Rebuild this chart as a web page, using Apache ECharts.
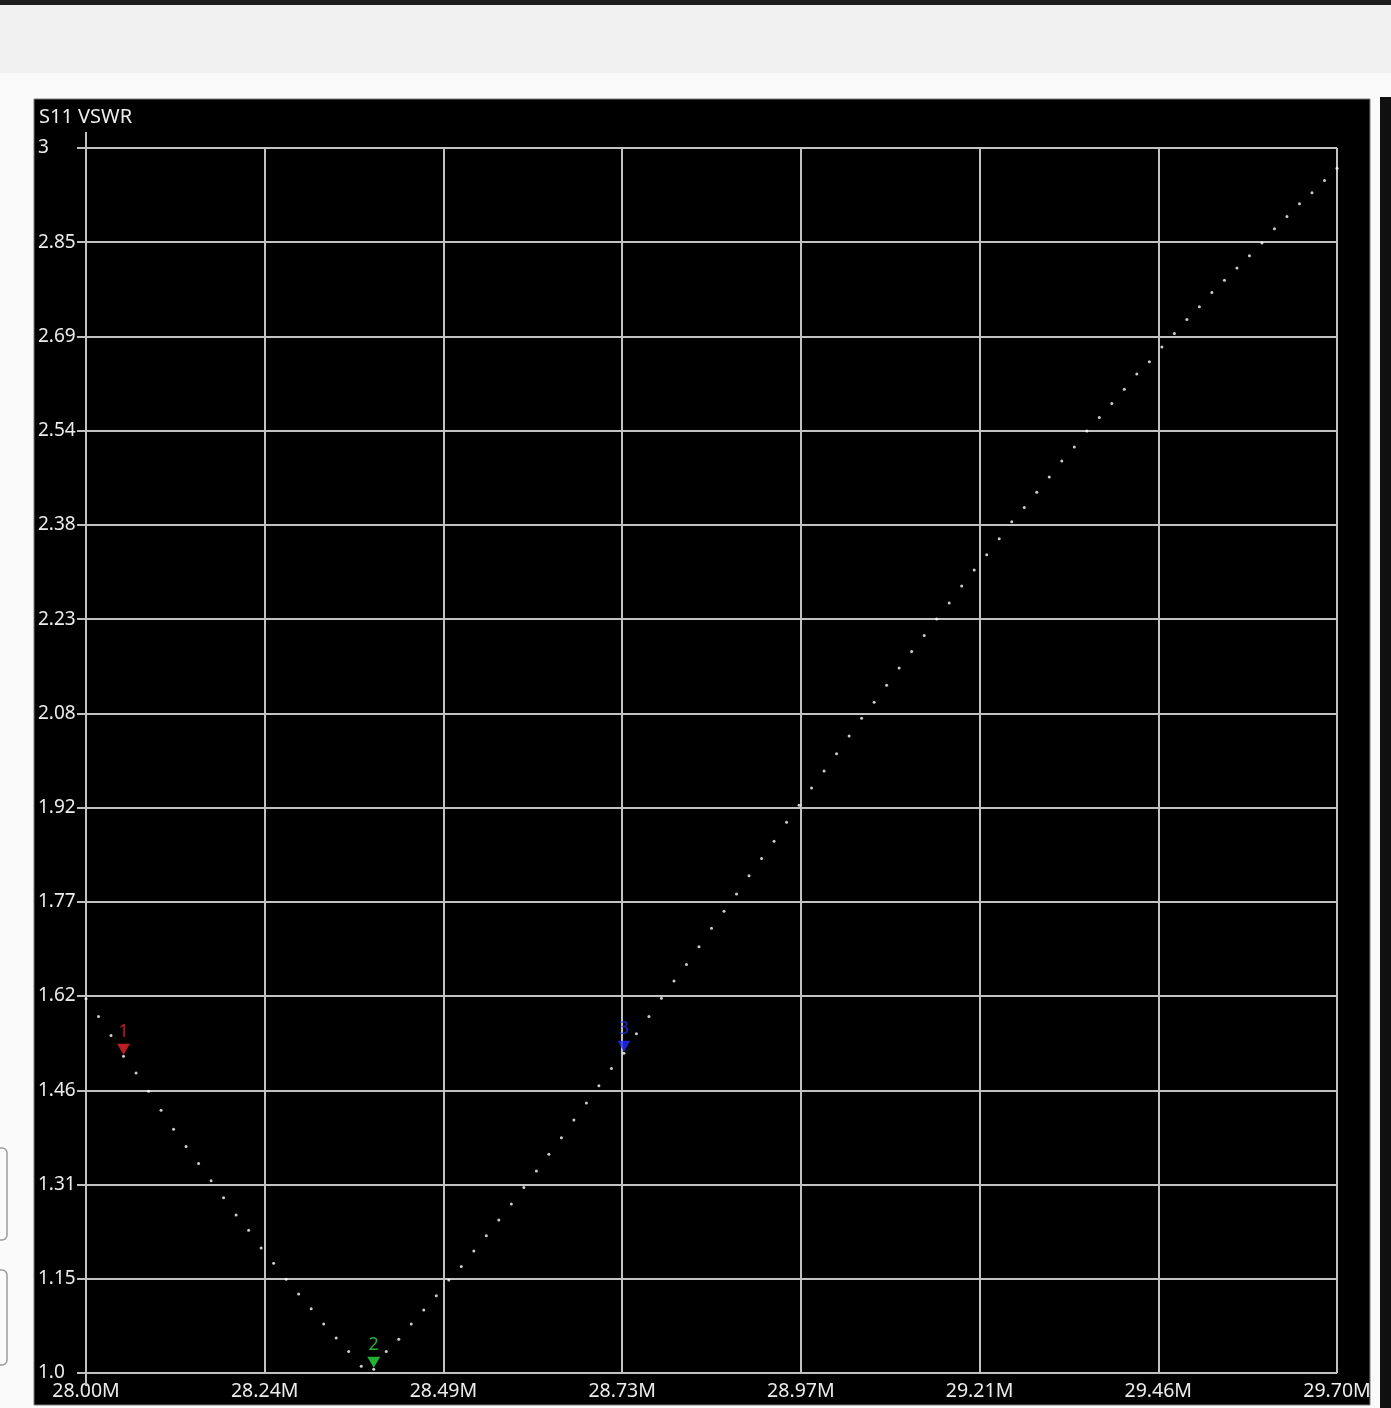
<!DOCTYPE html>
<html>
<head>
<meta charset="utf-8">
<title>S11 VSWR</title>
<script src="https://cdn.jsdelivr.net/npm/echarts@6/dist/echarts.min.js"></script>
<style>
  html, body { margin: 0; padding: 0; background: #fafafa; }
  #chart { width: 1391px; height: 1408px; }
</style>
</head>
<body>
<div id="chart"></div>
<script>
// Sweep frequencies (MHz), 101 points
const freqs = [
  28.000, 28.017, 28.034, 28.051, 28.068, 28.085, 28.102, 28.119, 28.136, 28.153,
  28.170, 28.187, 28.204, 28.221, 28.238, 28.255, 28.272, 28.289, 28.306, 28.323,
  28.340, 28.357, 28.374, 28.391, 28.408, 28.425, 28.442, 28.459, 28.476, 28.493,
  28.510, 28.527, 28.544, 28.561, 28.578, 28.595, 28.612, 28.629, 28.646, 28.663,
  28.680, 28.697, 28.714, 28.731, 28.748, 28.765, 28.782, 28.799, 28.816, 28.833,
  28.850, 28.867, 28.884, 28.901, 28.918, 28.935, 28.952, 28.969, 28.986, 29.003,
  29.020, 29.037, 29.054, 29.071, 29.088, 29.105, 29.122, 29.139, 29.156, 29.173,
  29.190, 29.207, 29.224, 29.241, 29.258, 29.275, 29.292, 29.309, 29.326, 29.343,
  29.360, 29.377, 29.394, 29.411, 29.428, 29.445, 29.462, 29.479, 29.496, 29.513,
  29.530, 29.547, 29.564, 29.581, 29.598, 29.615, 29.632, 29.649, 29.666, 29.683,
  29.700
];

// Measured S11 VSWR at each sweep point
const vswr = [
  1.611, 1.582, 1.551, 1.517, 1.490, 1.460, 1.429, 1.398, 1.370, 1.342,
  1.314, 1.286, 1.258, 1.233, 1.204, 1.179, 1.153, 1.129, 1.105, 1.080,
  1.057, 1.035, 1.011, 1.006, 1.035, 1.055, 1.080, 1.103, 1.126, 1.152,
  1.174, 1.199, 1.224, 1.250, 1.276, 1.303, 1.330, 1.357, 1.384, 1.413,
  1.441, 1.469, 1.497, 1.522, 1.554, 1.582, 1.612, 1.640, 1.667, 1.696,
  1.726, 1.754, 1.782, 1.812, 1.840, 1.868, 1.899, 1.927, 1.955, 1.983,
  2.011, 2.040, 2.069, 2.095, 2.123, 2.151, 2.178, 2.204, 2.231, 2.257,
  2.285, 2.311, 2.336, 2.362, 2.390, 2.413, 2.438, 2.463, 2.489, 2.512,
  2.538, 2.560, 2.583, 2.606, 2.631, 2.651, 2.675, 2.697, 2.720, 2.741,
  2.764, 2.784, 2.804, 2.824, 2.845, 2.868, 2.888, 2.909, 2.927, 2.947,
  2.967
];

// Markers: sweep index, id and colour
const markerIndex = [3, 23, 43];
const markerIds = ['1', '2', '3'];
const markerColors = ['#e8232a', '#2bdc3e', '#2230ff'];

// Axis ticks and their labels
const yTickValues = [1.0, 1.1538, 1.3077, 1.4615, 1.6154, 1.7692, 1.9231,
                     2.0769, 2.2308, 2.3846, 2.5385, 2.6923, 2.8462, 3.0];
const yTickLabels = ['1.0', '1.15', '1.31', '1.46', '1.62', '1.77', '1.92',
                     '2.08', '2.23', '2.38', '2.54', '2.69', '2.85', '3'];
const xTickValues = [28.0, 28.242857, 28.485714, 28.728571, 28.971429,
                     29.214286, 29.457143, 29.7];
const xTickLabels = ['28.00M', '28.24M', '28.49M', '28.73M', '28.97M',
                     '29.21M', '29.46M', '29.70M'];

const FONT = 'Noto Sans';
const GRID_COLOR = '#c2c2c2';
const TEXT_COLOR = '#ececec';

function labelFor(values, labels, v) {
  for (let i = 0; i < values.length; i++) {
    if (Math.abs(values[i] - v) < 1e-3) return labels[i];
  }
  return '';
}

const traceData = freqs.map((f, i) => [f, vswr[i]]);
const markerData = markerIndex.map((idx, k) => ({
  value: [freqs[idx], vswr[idx]],
  name: markerIds[k],
  itemStyle: { color: markerColors[k] },
  label: { color: markerColors[k] }
}));

const chart = echarts.init(document.getElementById('chart'), null, { renderer: 'canvas' });

const option = {
  backgroundColor: '#fafafa',
  animation: false,
  title: {
    text: 'S11 VSWR',
    left: 39,
    top: 107,
    padding: 0,
    textStyle: { fontFamily: FONT, fontSize: 20, fontWeight: 'normal', color: TEXT_COLOR }
  },
  graphic: [
    // window chrome around the plot panel
    { type: 'rect', z: -10, shape: { x: 0, y: 0, width: 1391, height: 5 }, style: { fill: '#1e1e1e' } },
    { type: 'rect', z: -10, shape: { x: 0, y: 5, width: 1391, height: 68 }, style: { fill: '#f0f0f0' } },
    { type: 'rect', z: -10, shape: { x: 1380, y: 97, width: 11, height: 1311 }, style: { fill: '#101010' } },
    { type: 'rect', z: -10, shape: { x: -12, y: 1148, width: 19, height: 92, r: 5 }, style: { fill: 'none', stroke: '#9a9a9a', lineWidth: 1.5 } },
    { type: 'rect', z: -10, shape: { x: -12, y: 1270, width: 19, height: 95, r: 5 }, style: { fill: 'none', stroke: '#9a9a9a', lineWidth: 1.5 } },
    // black plot panel
    { type: 'rect', z: -9, shape: { x: 34, y: 99, width: 1336, height: 1306 }, style: { fill: '#000000', stroke: '#7a7a7a', lineWidth: 1 } }
  ],
  grid: { left: 86, top: 148, width: 1251, height: 1225, containLabel: false },
  xAxis: {
    type: 'value',
    min: 28.0,
    max: 29.7,
    axisLine: { show: false },
    axisTick: { show: false, customValues: xTickValues },
    axisLabel: {
      customValues: xTickValues,
      margin: 8,
      color: TEXT_COLOR,
      fontFamily: FONT,
      fontSize: 19.5,
      formatter: v => labelFor(xTickValues, xTickLabels, v)
    },
    splitLine: { show: true, lineStyle: { color: GRID_COLOR, width: 2 } }
  },
  yAxis: {
    type: 'value',
    min: 1.0,
    max: 3.0,
    axisLine: { show: true, lineStyle: { color: GRID_COLOR, width: 2 } },
    axisTick: { show: true, length: 9, customValues: yTickValues, lineStyle: { color: GRID_COLOR, width: 2 } },
    axisLabel: {
      customValues: yTickValues,
      margin: 48,
      align: 'left',
      verticalAlign: 'middle',
      padding: [0, 0, 2, 0],
      color: TEXT_COLOR,
      fontFamily: FONT,
      fontSize: 19,
      formatter: v => labelFor(yTickValues, yTickLabels, v)
    },
    splitLine: { show: true, lineStyle: { color: GRID_COLOR, width: 2 } }
  },
  series: [
    {
      name: 'S11 VSWR',
      type: 'scatter',
      data: traceData,
      symbol: 'circle',
      symbolSize: 3,
      itemStyle: { color: '#ffffff' },
      silent: true,
      z: 3
    },
    {
      name: 'Markers',
      type: 'scatter',
      data: markerData,
      symbol: 'triangle',
      symbolRotate: 180,
      symbolSize: [13, 11],
      symbolOffset: [0, -7],
      label: {
        show: true,
        position: 'top',
        distance: 3,
        formatter: p => p.name,
        fontFamily: FONT,
        fontSize: 18
      },
      silent: true,
      z: 4
    }
  ]
};

chart.setOption(option);

// extend the vertical axis a little above and below the plot, as the analyser draws it
const pTop = chart.convertToPixel({ gridIndex: 0 }, [28.0, 3.0]);
const pBot = chart.convertToPixel({ gridIndex: 0 }, [28.0, 1.0]);
chart.setOption({
  graphic: option.graphic.concat([
    { type: 'line', z: 1, shape: { x1: pTop[0], y1: pTop[1] - 16, x2: pTop[0], y2: pTop[1] }, style: { stroke: GRID_COLOR, lineWidth: 2 } },
    { type: 'line', z: 1, shape: { x1: pBot[0], y1: pBot[1], x2: pBot[0], y2: pBot[1] + 13 }, style: { stroke: GRID_COLOR, lineWidth: 2 } }
  ])
});
</script>
</body>
</html>
